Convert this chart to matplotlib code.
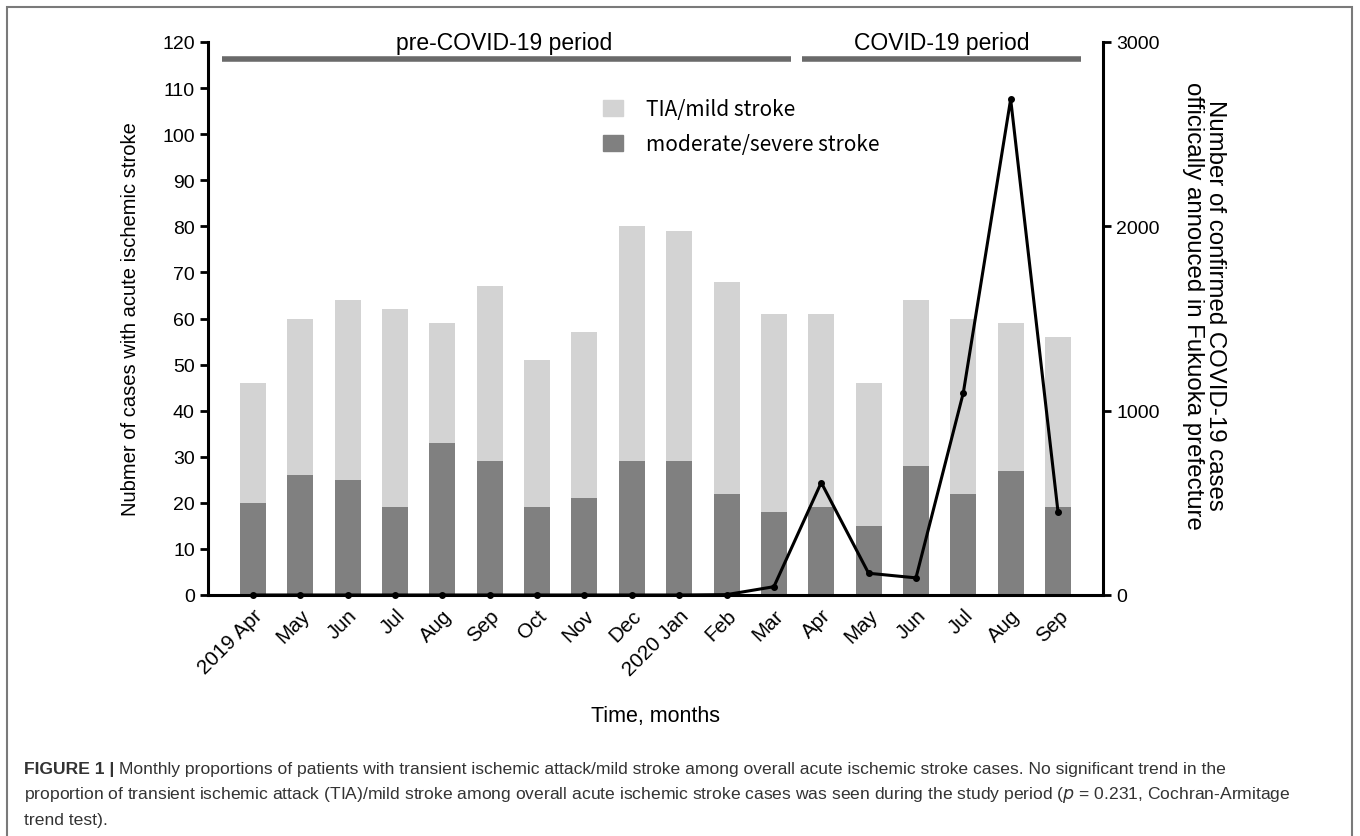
import matplotlib
matplotlib.use("Agg")
import matplotlib.pyplot as plt
from matplotlib.patches import Rectangle, Patch

plt.rcParams['font.family'] = ['Liberation Sans', 'DejaVu Sans']

months = ["2019 Apr", "May", "Jun", "Jul", "Aug", "Sep", "Oct", "Nov", "Dec",
          "2020 Jan", "Feb", "Mar", "Apr", "May", "Jun", "Jul", "Aug", "Sep"]
total_cases = [46, 60, 64, 62, 59, 67, 51, 57, 80, 79, 68, 61, 61, 46, 64, 60, 59, 56]
moderate_severe = [20, 26, 25, 19, 33, 29, 19, 21, 29, 29, 22, 18, 19, 15, 28, 22, 27, 19]
tia_mild = [t - m for t, m in zip(total_cases, moderate_severe)]
covid_cases = [0, 0, 0, 0, 0, 0, 0, 0, 0, 0, 2, 45, 610, 118, 93, 1097, 2690, 451]

W, H = 1360, 837
fig = plt.figure(figsize=(W / 100, H / 100), dpi=100)

# outer frame
fig.add_artist(Rectangle((7 / W, -0.05), (1352 - 7) / W, 1 - 8 / H + 0.05,
                         transform=fig.transFigure, fill=False,
                         edgecolor="#7a7a7a", linewidth=1.5))

ax = fig.add_axes([208 / W, 1 - 596 / H, (1103 - 208) / W, (596 - 43) / H])
x = list(range(len(months)))
bw = 0.55
ax.bar(x, moderate_severe, width=bw, color="#808080", zorder=2)
ax.bar(x, tia_mild, width=bw, bottom=moderate_severe, color="#d3d3d3", zorder=2)

ax.set_xlim(-0.95, 17.95)
ax.set_ylim(0, 120)
ax.set_yticks(range(0, 121, 10))
ax.set_xticks(x)
ax.set_xticklabels(months, rotation=45, ha="right", rotation_mode="anchor", fontsize=14.8)
ax.tick_params(axis="y", labelsize=14, width=2, length=6, direction="out")
ax.tick_params(axis="x", width=0, length=4)
for s in ["top", "right"]:
    ax.spines[s].set_visible(False)
for s in ["left", "bottom"]:
    ax.spines[s].set_linewidth(2.2)
ax.set_ylabel("Nubmer of cases with acute ischemic stroke", fontsize=14.5, labelpad=16)
ax.set_xlabel("Time, months", fontsize=15.5, labelpad=19)

ax2 = ax.twinx()
ax2.plot(x, covid_cases, color="black", linewidth=2.2, marker="o", markersize=4, zorder=3,
         clip_on=False)
ax2.set_ylim(0, 3000)
ax2.set_yticks([0, 1000, 2000, 3000])
ax2.tick_params(axis="y", labelsize=14, width=2, length=6, direction="out")
for s in ["top", "left", "bottom"]:
    ax2.spines[s].set_visible(False)
ax2.spines["right"].set_linewidth(2.2)
ax2.set_ylabel("Number of confirmed COVID-19 cases\nofficically annouced in Fukuoka prefecture",
               fontsize=17.3, rotation=270, linespacing=1.0)
ax2.yaxis.set_label_coords(1.137, 0.525)

# period bars
ax.plot([-0.65, 11.36], [116.4, 116.4], color="#6a6a6a", linewidth=4, clip_on=False,
        solid_capstyle="butt")
ax.plot([11.6, 17.49], [116.4, 116.4], color="#6a6a6a", linewidth=4, clip_on=False,
        solid_capstyle="butt")
ax.text(5.3, 117.4, "pre-COVID-19 period", ha="center", va="bottom", fontsize=16.5,
        clip_on=False)
ax.text(14.55, 117.4, "COVID-19 period", ha="center", va="bottom", fontsize=16.5,
        clip_on=False)

handles = [Patch(color="#d3d3d3", label="TIA/mild stroke"),
           Patch(color="#808080", label="moderate/severe stroke")]
ax.legend(handles=handles, loc="upper left", bbox_to_anchor=(0.42, 0.932), frameon=False,
          handlelength=1.0, handleheight=0.8, labelspacing=0.6, handletextpad=1.1,
          prop={"family": ["Noto Sans CJK JP", "DejaVu Sans"], "size": 15})

# caption
cap_fs = 12.6
cap_col = "#333333"
line_y = [1 - 770 / H, 1 - 795.5 / H, 1 - 821 / H]
t_bold = fig.text(24 / W, line_y[0], "FIGURE 1 | ", fontsize=cap_fs, fontweight="bold",
                  va="center", ha="left", color=cap_col)
fig.canvas.draw()
bb = t_bold.get_window_extent(renderer=fig.canvas.get_renderer())
fig.text(bb.x1 / W, line_y[0],
         "Monthly proportions of patients with transient ischemic attack/mild stroke among overall acute ischemic stroke cases. No significant trend in the",
         fontsize=cap_fs, va="center", ha="left", color=cap_col)
fig.text(24 / W, line_y[1],
         "proportion of transient ischemic attack (TIA)/mild stroke among overall acute ischemic stroke cases was seen during the study period ($p$ = 0.231, Cochran-Armitage",
         fontsize=cap_fs, va="center", ha="left", color=cap_col)
fig.text(24 / W, line_y[2], "trend test).", fontsize=cap_fs, va="center", ha="left",
         color=cap_col)

fig.savefig("out.png", dpi=100)
